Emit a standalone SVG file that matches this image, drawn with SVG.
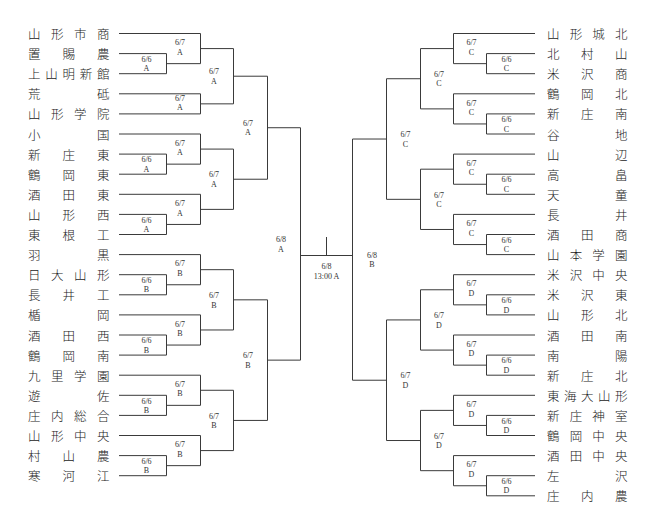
<svg xmlns="http://www.w3.org/2000/svg" width="654" height="531" viewBox="0 0 654 531">
<style>
.tm{font-family:"Noto Sans CJK JP","Noto Sans CJK SC",sans-serif;font-size:12.5px;font-weight:300;fill:#1a1a1a}
.lb{font-family:"Liberation Serif",serif;font-size:8px;fill:#333;text-anchor:middle}
#connectors path{fill:none;stroke:#3a3a3a;stroke-width:1}
</style>
<rect width="654" height="531" fill="#fff"/>
<g id="connectors">
<path d="M119 53.6H166.5V73.7H119M119 33.5H200.5V63.65H166.5M200.5 48.58H233.5"/>
<path d="M119 93.8H200.5V113.9H119M200.5 103.85H233.5"/>
<path d="M233.5 48.58V103.85M233.5 76.21H267.5"/>
<path d="M119 154.1H166.5V174.2H119M119 134H200.5V164.15H166.5M200.5 149.08H233.5"/>
<path d="M119 214.4H166.5V234.5H119M119 194.3H200.5V224.45H166.5M200.5 209.38H233.5"/>
<path d="M233.5 149.08V209.38M233.5 179.23H267.5"/>
<path d="M267.5 76.21V179.23M267.5 127.72H300.5"/>
<path d="M119 274.7H166.5V294.8H119M119 254.6H200.5V284.75H166.5M200.5 269.68H233.5"/>
<path d="M119 335H166.5V355.1H119M119 314.9H200.5V345.05H166.5M200.5 329.98H233.5"/>
<path d="M233.5 269.68V329.98M233.5 299.83H267.5"/>
<path d="M119 395.3H166.5V415.4H119M119 375.2H200.5V405.35H166.5M200.5 390.28H233.5"/>
<path d="M119 455.6H166.5V475.7H119M119 435.5H200.5V465.65H166.5M200.5 450.58H233.5"/>
<path d="M233.5 390.28V450.58M233.5 420.43H267.5"/>
<path d="M267.5 299.83V420.43M267.5 360.13H300.5"/>
<path d="M300.5 127.72V360.13"/>
<path d="M300.5 255.5H352.5M326.5 237V255.5"/>
<path d="M352.5 139.03V380.23"/>
<path d="M535 53.6H486.5V73.7H535M535 33.5H453.5V63.65H486.5M453.5 48.58H420.5"/>
<path d="M535 113.9H486.5V134H535M535 93.8H453.5V123.95H486.5M453.5 108.88H420.5"/>
<path d="M420.5 48.58V108.88M420.5 78.73H386.5"/>
<path d="M535 174.2H486.5V194.3H535M535 154.1H453.5V184.25H486.5M453.5 169.18H420.5"/>
<path d="M535 234.5H486.5V254.6H535M535 214.4H453.5V244.55H486.5M453.5 229.48H420.5"/>
<path d="M420.5 169.18V229.48M420.5 199.33H386.5"/>
<path d="M386.5 78.73V199.33M386.5 139.03H352.5"/>
<path d="M535 294.8H486.5V314.9H535M535 274.7H453.5V304.85H486.5M453.5 289.78H420.5"/>
<path d="M535 355.1H486.5V375.2H535M535 335H453.5V365.15H486.5M453.5 350.08H420.5"/>
<path d="M420.5 289.78V350.08M420.5 319.93H386.5"/>
<path d="M535 415.4H486.5V435.5H535M535 395.3H453.5V425.45H486.5M453.5 410.38H420.5"/>
<path d="M535 475.7H486.5V495.8H535M535 455.6H453.5V485.75H486.5M453.5 470.68H420.5"/>
<path d="M420.5 410.38V470.68M420.5 440.53H386.5"/>
<path d="M386.5 319.93V440.53M386.5 380.23H352.5"/>
</g>
<g id="teams-left">
<g id="L00"><text class="tm" x="28 51 74 97" y="39">山形市商</text></g>
<g id="L01"><text class="tm" x="28 62.5 97" y="59.1">置賜農</text></g>
<g id="L02"><text class="tm" x="28 45.25 62.5 79.75 97" y="79.2">上山明新館</text></g>
<g id="L03"><text class="tm" x="28 97" y="99.3">荒砥</text></g>
<g id="L04"><text class="tm" x="28 51 74 97" y="119.4">山形学院</text></g>
<g id="L05"><text class="tm" x="28 97" y="139.5">小国</text></g>
<g id="L06"><text class="tm" x="28 62.5 97" y="159.6">新庄東</text></g>
<g id="L07"><text class="tm" x="28 62.5 97" y="179.7">鶴岡東</text></g>
<g id="L08"><text class="tm" x="28 62.5 97" y="199.8">酒田東</text></g>
<g id="L09"><text class="tm" x="28 62.5 97" y="219.9">山形西</text></g>
<g id="L10"><text class="tm" x="28 62.5 97" y="240">東根工</text></g>
<g id="L11"><text class="tm" x="28 97" y="260.1">羽黒</text></g>
<g id="L12"><text class="tm" x="28 51 74 97" y="280.2">日大山形</text></g>
<g id="L13"><text class="tm" x="28 62.5 97" y="300.3">長井工</text></g>
<g id="L14"><text class="tm" x="28 97" y="320.4">楯岡</text></g>
<g id="L15"><text class="tm" x="28 62.5 97" y="340.5">酒田西</text></g>
<g id="L16"><text class="tm" x="28 62.5 97" y="360.6">鶴岡南</text></g>
<g id="L17"><text class="tm" x="28 51 74 97" y="380.7">九里学園</text></g>
<g id="L18"><text class="tm" x="28 97" y="400.8">遊佐</text></g>
<g id="L19"><text class="tm" x="28 51 74 97" y="420.9">庄内総合</text></g>
<g id="L20"><text class="tm" x="28 51 74 97" y="441">山形中央</text></g>
<g id="L21"><text class="tm" x="28 62.5 97" y="461.1">村山農</text></g>
<g id="L22"><text class="tm" x="28 62.5 97" y="481.2">寒河江</text></g>
</g>
<g id="teams-right">
<g id="R00"><text class="tm" x="547 569.7 592.3 615" y="39">山形城北</text></g>
<g id="R01"><text class="tm" x="547 581 615" y="59.1">北村山</text></g>
<g id="R02"><text class="tm" x="547 581 615" y="79.2">米沢商</text></g>
<g id="R03"><text class="tm" x="547 581 615" y="99.3">鶴岡北</text></g>
<g id="R04"><text class="tm" x="547 581 615" y="119.4">新庄南</text></g>
<g id="R05"><text class="tm" x="547 615" y="139.5">谷地</text></g>
<g id="R06"><text class="tm" x="547 615" y="159.6">山辺</text></g>
<g id="R07"><text class="tm" x="547 615" y="179.7">高畠</text></g>
<g id="R08"><text class="tm" x="547 615" y="199.8">天童</text></g>
<g id="R09"><text class="tm" x="547 615" y="219.9">長井</text></g>
<g id="R10"><text class="tm" x="547 581 615" y="240">酒田商</text></g>
<g id="R11"><text class="tm" x="547 569.7 592.3 615" y="260.1">山本学園</text></g>
<g id="R12"><text class="tm" x="547 569.7 592.3 615" y="280.2">米沢中央</text></g>
<g id="R13"><text class="tm" x="547 581 615" y="300.3">米沢東</text></g>
<g id="R14"><text class="tm" x="547 581 615" y="320.4">山形北</text></g>
<g id="R15"><text class="tm" x="547 581 615" y="340.5">酒田南</text></g>
<g id="R16"><text class="tm" x="547 615" y="360.6">南陽</text></g>
<g id="R17"><text class="tm" x="547 581 615" y="380.7">新庄北</text></g>
<g id="R18"><text class="tm" x="547 564 581 598 615" y="400.8">東海大山形</text></g>
<g id="R19"><text class="tm" x="547 569.7 592.3 615" y="420.9">新庄神室</text></g>
<g id="R20"><text class="tm" x="547 569.7 592.3 615" y="441">鶴岡中央</text></g>
<g id="R21"><text class="tm" x="547 569.7 592.3 615" y="461.1">酒田中央</text></g>
<g id="R22"><text class="tm" x="547 615" y="481.2">左沢</text></g>
<g id="R23"><text class="tm" x="547 581 615" y="501.3">庄内農</text></g>
</g>
<g id="matches">
<g id="mA1"><text class="lb"><tspan x="146.5" y="61.8">6/6</tspan><tspan x="146.5" y="71.3">A</tspan></text></g>
<g id="mA2"><text class="lb"><tspan x="146.5" y="162.3">6/6</tspan><tspan x="146.5" y="171.8">A</tspan></text></g>
<g id="mA3"><text class="lb"><tspan x="146.5" y="222.6">6/6</tspan><tspan x="146.5" y="232.1">A</tspan></text></g>
<g id="mB1"><text class="lb"><tspan x="146.5" y="282.9">6/6</tspan><tspan x="146.5" y="292.4">B</tspan></text></g>
<g id="mB2"><text class="lb"><tspan x="146.5" y="343.2">6/6</tspan><tspan x="146.5" y="352.7">B</tspan></text></g>
<g id="mB3"><text class="lb"><tspan x="146.5" y="403.5">6/6</tspan><tspan x="146.5" y="413">B</tspan></text></g>
<g id="mB4"><text class="lb"><tspan x="146.5" y="463.8">6/6</tspan><tspan x="146.5" y="473.3">B</tspan></text></g>
<g id="mA4"><text class="lb"><tspan x="180" y="45.2">6/7</tspan><tspan x="180" y="54.7">A</tspan></text></g>
<g id="mA5"><text class="lb"><tspan x="180" y="100.5">6/7</tspan><tspan x="180" y="110">A</tspan></text></g>
<g id="mA6"><text class="lb"><tspan x="180" y="145.7">6/7</tspan><tspan x="180" y="155.2">A</tspan></text></g>
<g id="mA7"><text class="lb"><tspan x="180" y="206">6/7</tspan><tspan x="180" y="215.5">A</tspan></text></g>
<g id="mB5"><text class="lb"><tspan x="180" y="266.3">6/7</tspan><tspan x="180" y="275.8">B</tspan></text></g>
<g id="mB6"><text class="lb"><tspan x="180" y="326.6">6/7</tspan><tspan x="180" y="336.1">B</tspan></text></g>
<g id="mB7"><text class="lb"><tspan x="180" y="386.9">6/7</tspan><tspan x="180" y="396.4">B</tspan></text></g>
<g id="mB8"><text class="lb"><tspan x="180" y="447.2">6/7</tspan><tspan x="180" y="456.7">B</tspan></text></g>
<g id="mA8"><text class="lb"><tspan x="214" y="74.4">6/7</tspan><tspan x="214" y="83.9">A</tspan></text></g>
<g id="mA9"><text class="lb"><tspan x="214" y="177.4">6/7</tspan><tspan x="214" y="186.9">A</tspan></text></g>
<g id="mB9"><text class="lb"><tspan x="214" y="298">6/7</tspan><tspan x="214" y="307.5">B</tspan></text></g>
<g id="mB10"><text class="lb"><tspan x="214" y="418.6">6/7</tspan><tspan x="214" y="428.1">B</tspan></text></g>
<g id="mA10"><text class="lb"><tspan x="248" y="125.9">6/7</tspan><tspan x="248" y="135.4">A</tspan></text></g>
<g id="mB11"><text class="lb"><tspan x="248" y="358.3">6/7</tspan><tspan x="248" y="367.8">B</tspan></text></g>
<g id="mA11"><text class="lb"><tspan x="281" y="242.1">6/8</tspan><tspan x="281" y="251.6">A</tspan></text></g>
<g id="final"><text class="lb"><tspan x="326.5" y="268.5">6/8</tspan><tspan x="326.5" y="278.5">13:00 A</tspan></text></g>
<g id="mB12"><text class="lb"><tspan x="372" y="257.8">6/8</tspan><tspan x="372" y="267.3">B</tspan></text></g>
<g id="mC11"><text class="lb"><tspan x="405.5" y="137.2">6/7</tspan><tspan x="405.5" y="146.7">C</tspan></text></g>
<g id="mD11"><text class="lb"><tspan x="405.5" y="378.4">6/7</tspan><tspan x="405.5" y="387.9">D</tspan></text></g>
<g id="mC9"><text class="lb"><tspan x="439" y="76.9">6/7</tspan><tspan x="439" y="86.4">C</tspan></text></g>
<g id="mC10"><text class="lb"><tspan x="439" y="197.5">6/7</tspan><tspan x="439" y="207">C</tspan></text></g>
<g id="mD9"><text class="lb"><tspan x="439" y="318.1">6/7</tspan><tspan x="439" y="327.6">D</tspan></text></g>
<g id="mD10"><text class="lb"><tspan x="439" y="438.7">6/7</tspan><tspan x="439" y="448.2">D</tspan></text></g>
<g id="mC5"><text class="lb"><tspan x="471.5" y="45.2">6/7</tspan><tspan x="471.5" y="54.7">C</tspan></text></g>
<g id="mC6"><text class="lb"><tspan x="471.5" y="105.5">6/7</tspan><tspan x="471.5" y="115">C</tspan></text></g>
<g id="mC7"><text class="lb"><tspan x="471.5" y="165.8">6/7</tspan><tspan x="471.5" y="175.3">C</tspan></text></g>
<g id="mC8"><text class="lb"><tspan x="471.5" y="226.1">6/7</tspan><tspan x="471.5" y="235.6">C</tspan></text></g>
<g id="mD5"><text class="lb"><tspan x="471.5" y="286.4">6/7</tspan><tspan x="471.5" y="295.9">D</tspan></text></g>
<g id="mD6"><text class="lb"><tspan x="471.5" y="346.7">6/7</tspan><tspan x="471.5" y="356.2">D</tspan></text></g>
<g id="mD7"><text class="lb"><tspan x="471.5" y="407">6/7</tspan><tspan x="471.5" y="416.5">D</tspan></text></g>
<g id="mD8"><text class="lb"><tspan x="471.5" y="467.3">6/7</tspan><tspan x="471.5" y="476.8">D</tspan></text></g>
<g id="mC1"><text class="lb"><tspan x="506.5" y="61.8">6/6</tspan><tspan x="506.5" y="71.3">C</tspan></text></g>
<g id="mC2"><text class="lb"><tspan x="506.5" y="122.1">6/6</tspan><tspan x="506.5" y="131.6">C</tspan></text></g>
<g id="mC3"><text class="lb"><tspan x="506.5" y="182.4">6/6</tspan><tspan x="506.5" y="191.9">C</tspan></text></g>
<g id="mC4"><text class="lb"><tspan x="506.5" y="242.7">6/6</tspan><tspan x="506.5" y="252.2">C</tspan></text></g>
<g id="mD1"><text class="lb"><tspan x="506.5" y="303">6/6</tspan><tspan x="506.5" y="312.5">D</tspan></text></g>
<g id="mD2"><text class="lb"><tspan x="506.5" y="363.3">6/6</tspan><tspan x="506.5" y="372.8">D</tspan></text></g>
<g id="mD3"><text class="lb"><tspan x="506.5" y="423.6">6/6</tspan><tspan x="506.5" y="433.1">D</tspan></text></g>
<g id="mD4"><text class="lb"><tspan x="506.5" y="483.9">6/6</tspan><tspan x="506.5" y="493.4">D</tspan></text></g>
</g>
</svg>
